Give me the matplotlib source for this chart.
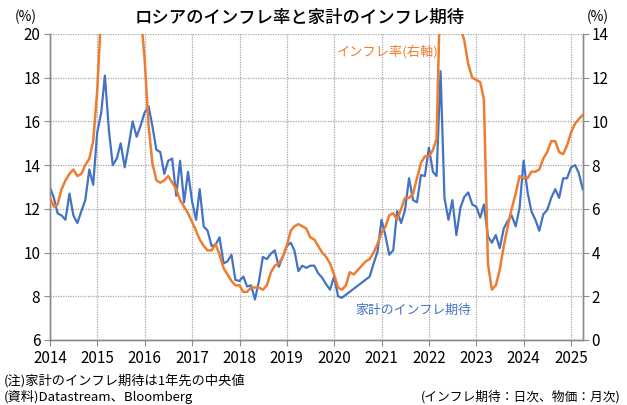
import pandas as pd
import numpy as np
import matplotlib
matplotlib.use('Agg')
import matplotlib.pyplot as plt
import matplotlib.dates as mdates

plt.rcParams['font.family'] = ['Noto Sans CJK JP', 'DejaVu Sans']

# monthly data, month-end, Dec 2013 - Mar 2025
months = pd.date_range('2013-12-31', periods=136, freq='ME')

# household inflation expectation (left axis, %), NaN = no data
expect = [13.0,
          12.5, 11.8, 11.7, 11.5, 12.7, 11.7, 11.35, 11.9, 12.4, 13.8, 13.1, 15.5,
          16.4, 18.1, 15.6, 14.0, 14.3, 15.0, 13.9, 14.9, 16.0, 15.3, 15.8, 16.4,
          16.7, 15.8, 14.7, 14.6, 13.6, 14.2, 14.3, 12.6, 14.2, 12.3, 13.7, 12.35,
          11.5, 12.9, 11.2, 11.0, 10.3, 10.35, 10.7, 9.5, 9.6, 9.9, 8.75, 8.7,
          8.9, 8.45, 8.5, 7.85, 8.7, 9.8, 9.7, 9.95, 10.1, 9.35, 9.8, 10.3,
          10.45, 10.1, 9.15, 9.4, 9.3, 9.4, 9.4, 9.05, 8.85, 8.55, 8.3, 8.9,
          8.0, 7.93, np.nan, np.nan, np.nan, np.nan, np.nan, np.nan, 8.9, 9.5, 10.05, 11.5,
          10.75, 9.9, 10.1, 11.9, 11.35, 11.95, 13.4, 12.4, 12.3, 13.55, 13.5, 14.8,
          13.7, 13.5, 18.3, 12.5, 11.5, 12.4, 10.8, 12.05, 12.55, 12.75, 12.2, 12.1,
          11.6, 12.2, 10.75, 10.45, 10.8, 10.2, 11.1, 11.45, 11.7, 11.2, 12.05, 14.2,
          12.75, 11.9, 11.5, 11.0, 11.75, 11.95, 12.5, 12.9, 12.5, 13.4, 13.4, 13.9,
          14.0, 13.65, 12.9]

# CPI inflation (right axis, % y/y)
cpi = [6.5,
       6.1, 6.2, 6.9, 7.3, 7.6, 7.8, 7.5, 7.6, 8.0, 8.3, 9.1, 11.4,
       15.0, 16.7, 16.9, 16.4, 15.8, 15.3, 15.6, 15.8, 15.7, 15.6, 15.0, 12.9,
       9.8, 8.1, 7.3, 7.2, 7.3, 7.5, 7.2, 6.9, 6.4, 6.1, 5.8, 5.4,
       5.0, 4.6, 4.3, 4.1, 4.1, 4.4, 3.9, 3.3, 3.0, 2.7, 2.5, 2.5,
       2.2, 2.2, 2.4, 2.4, 2.4, 2.3, 2.5, 3.1, 3.4, 3.5, 3.8, 4.3,
       5.0, 5.2, 5.3, 5.2, 5.1, 4.7, 4.6, 4.3, 4.0, 3.8, 3.5, 3.0,
       2.4, 2.3, 2.5, 3.1, 3.0, 3.2, 3.4, 3.6, 3.7, 4.0, 4.4, 4.9,
       5.2, 5.7, 5.8, 5.5, 6.0, 6.5, 6.5, 6.7, 7.4, 8.1, 8.4, 8.4,
       8.7, 9.2, 16.7, 17.8, 17.1, 15.9, 15.1, 14.3, 13.7, 12.6, 12.0, 11.9,
       11.8, 11.0, 3.5, 2.3, 2.5, 3.2, 4.3, 5.2, 6.0, 6.7, 7.5, 7.4,
       7.4, 7.7, 7.7, 7.8, 8.3, 8.6, 9.1, 9.1, 8.6, 8.5, 8.9, 9.5,
       9.9, 10.1, 10.3]

df = pd.DataFrame({'expect': expect, 'cpi': cpi}, index=months)
exp_s = df['expect'].dropna()

blue = '#4472C4'
orange = '#ED7D31'
grid_c = '#A6A6A6'

fig = plt.figure(figsize=(6.27, 4.05), dpi=100)
ax1 = fig.add_axes([50 / 627, 65 / 405, 533 / 627, 306 / 405])
ax2 = ax1.twinx()

ax1.plot(exp_s.index, exp_s.values, color=blue, lw=1.6, zorder=3)
ax2.plot(df.index, df['cpi'], color=orange, lw=1.8, zorder=3)

ax1.set_xlim(pd.Timestamp('2014-01-01'), pd.Timestamp('2025-04-02'))
ax1.set_ylim(6, 20)
ax2.set_ylim(0, 14)
ax1.set_yticks(np.arange(6, 21, 2))
ax2.set_yticks(np.arange(0, 15, 2))
ax1.xaxis.set_major_locator(mdates.YearLocator())
ax1.xaxis.set_major_formatter(mdates.DateFormatter('%Y'))

ax1.grid(True, color=grid_c, lw=0.9, linestyle=(0, (1, 1)))
ax1.set_axisbelow(True)

for ax in (ax1, ax2):
    for s in ax.spines.values():
        s.set_color('#8C8C8C')
        s.set_linewidth(1.0)
    ax.spines['top'].set_visible(False)
    ax.tick_params(colors='#8C8C8C', labelcolor='black', labelsize=11, length=4, width=0.8)

ax1.tick_params(axis='y', pad=3)
ax2.tick_params(axis='y', pad=2)
ax1.tick_params(axis='x', pad=3.5)

ax1.text(0.538, 0.941, 'インフレ率(右軸)', transform=ax1.transAxes, color=orange,
         fontsize=9.5, va='center', ha='left')
ax1.text(0.572, 0.098, '家計のインフレ期待', transform=ax1.transAxes, color=blue,
         fontsize=9.3, va='center', ha='left')

fig.text(300 / 627, 1 - 18 / 405, 'ロシアのインフレ率と家計のインフレ期待', ha='center', va='center',
         fontsize=12.5, fontweight='medium', color='black')
fig.text(26 / 627, 1 - 17 / 405, '(%)', ha='center', va='center', fontsize=10)
fig.text(598 / 627, 1 - 17 / 405, '(%)', ha='center', va='center', fontsize=10)

fig.text(4 / 627, 1 - 381 / 405, '(注)家計のインフレ期待は1年先の中央値', ha='left', va='center', fontsize=9.5)
fig.text(4 / 627, 1 - 397 / 405, '(資料)Datastream、Bloomberg', ha='left', va='center', fontsize=9.5)
fig.text(621 / 627, 1 - 397 / 405, '(インフレ期待：日次、物価：月次)', ha='right', va='center', fontsize=9.2)

fig.savefig('out.png', dpi=100)
